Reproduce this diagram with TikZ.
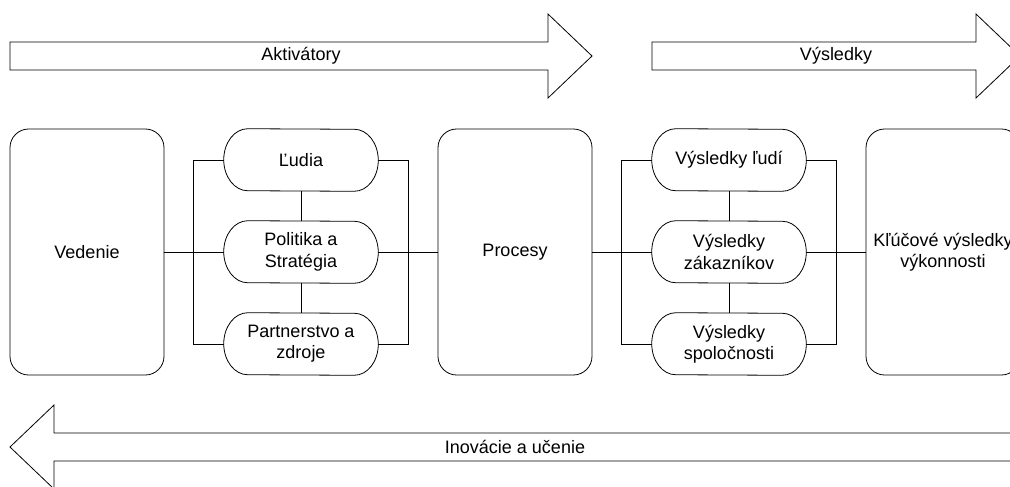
\documentclass[tikz,border=0pt]{standalone}
\usepackage{fontspec}
\setmainfont{Liberation Sans}
\usetikzlibrary{calc}
% obrys "pilulky": zaoblene boky z eliptickych oblukov
\newcommand{\pillrim}[1]{%
  \draw[rim] ([xshift=18pt]#1.north west)
    arc[start angle=90,end angle=270,x radius=18pt,y radius=23.25pt]
    -- ([xshift=-18pt]#1.south east)
    arc[start angle=-90,end angle=90,x radius=18pt,y radius=23.25pt] -- cycle;}

\begin{document}
\begin{tikzpicture}[x=0.75pt,y=-0.75pt,
  font=\fontsize{13.5}{16}\selectfont,
  rim/.style={draw=black,line width=.6pt},
  bigbox/.style={rim,rounded corners=14pt,minimum width=115.5pt,
    minimum height=184.5pt,inner sep=0pt,align=center},
  pill/.style={minimum width=115.5pt,minimum height=46.5pt,inner sep=0pt,align=center},
  link/.style={rim}]
\useasboundingbox (0,0) rectangle (1010,486);
\clip (0,0) rectangle (1010,486);
% --- velke sipky hore ---
\draw[rim] (10,42) -- (548,42) -- (548,14) -- (592,56) -- (548,98) -- (548,70)
  -- (10,70) -- cycle;
\node (aktiv) at (301,56) {Aktivátory};
\draw[rim] (652,42) -- (976,42) -- (976,14) -- (1020,56) -- (976,98) -- (976,70)
  -- (652,70) -- cycle;
\node (vysl) at (836,56) {Výsledky};
% --- sipka dole ---
\draw[rim] (10,447) -- (54,405) -- (54,433) -- (1020,433) -- (1020,461) -- (54,461)
  -- (54,489) -- cycle;
\node (inov) at (515,447) {Inovácie a učenie};
% --- bloky ---
\node[bigbox] (ved) at (87,252) {Vedenie};
\node[bigbox] (proc) at (515,252) {Procesy};
\node[bigbox] (kpi) at (943,252) {Kľúčové výsledky\\výkonnosti};
\node[pill] (ludia) at (301,160) {Ľudia};
\node[pill] (pol) at (301,252) {Politika a\\Stratégia};
\node[pill] (partner) at (301,344) {Partnerstvo a\\zdroje};
\node[pill] (vludi) at (729,160) {Výsledky ľudí};
\node[pill] (vzak) at (729,252) {Výsledky\\zákazníkov};
\node[pill] (vspol) at (729,344) {Výsledky\\spoločnosti};
\foreach \p in {ludia,pol,partner,vludi,vzak,vspol} {\pillrim{\p}}
% --- spojenia ---
\draw[link] (ved) -- (pol);
\draw[link] (pol) -- (proc);
\draw[link] (ludia) -- (pol);
\draw[link] (pol) -- (partner);
\draw[link] (ludia.west) -- ++(-30,0) |- (partner.west);
\draw[link] (ludia.east) -- ++(30,0) |- (partner.east);
\draw[link] (proc) -- (vzak);
\draw[link] (vzak) -- (kpi);
\draw[link] (vludi) -- (vzak);
\draw[link] (vzak) -- (vspol);
\draw[link] (vludi.west) -- ++(-30,0) |- (vspol.west);
\draw[link] (vludi.east) -- ++(30,0) |- (vspol.east);
\end{tikzpicture}
\end{document}
